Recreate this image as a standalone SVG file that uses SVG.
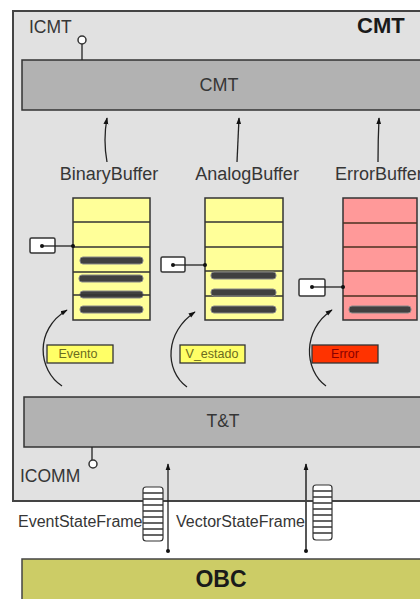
<svg xmlns="http://www.w3.org/2000/svg" width="420" height="599" viewBox="0 0 420 599">
  <style>
    .lbl { font-family: "Liberation Sans", Arial, sans-serif; fill: #363636; }
    .bold { font-family: "Liberation Sans", Arial, sans-serif; font-weight: bold; fill: #1a1a1a; }
    .block { fill: #b2b2b2; stroke: #333; stroke-width: 1.5; }
    .yel { fill: #ffff99; stroke: #333; stroke-width: 1.5; }
    .red { fill: #ff9999; stroke: #333; stroke-width: 1.5; }
    .row { stroke: #333; stroke-width: 1.5; }
    .rowr { stroke: #4a3020; stroke-width: 1.5; }
    .bar { fill: #404040; stroke: #888; stroke-width: 1; }
    .ptr { fill: #ffffff; stroke: #333; stroke-width: 1.5; }
    .wire { fill: none; stroke: #222; stroke-width: 1.3; }
    .dot { fill: #111; }
    .stack { fill: #ffffff; stroke: #333; stroke-width: 1.2; }
    .tag { font-family: "Liberation Sans", Arial, sans-serif; font-size: 12.5px; }
  </style>
  <defs>
    <marker id="tip" viewBox="0 0 10 10" refX="9" refY="5" markerWidth="7" markerHeight="7" markerUnits="userSpaceOnUse" orient="auto">
      <path d="M0,1.5 L10,5 L0,8.5 z" fill="#111"/>
    </marker>
  </defs>

  <rect width="420" height="599" fill="#ffffff"/>

  <!-- outer CMT container -->
  <g id="cmt-container">
    <rect x="13" y="11" width="420" height="490" fill="#e1e1e1" stroke="#444" stroke-width="2"/>
    <text class="bold" x="357" y="33" font-size="22">CMT</text>
    <text class="lbl" x="29" y="33" font-size="17.5">ICMT</text>
  </g>

  <!-- CMT block -->
  <g id="cmt-block">
    <rect class="block" x="22" y="60" width="410" height="50"/>
    <text class="lbl" x="219" y="91" font-size="18" text-anchor="middle">CMT</text>
  </g>

  <!-- binary buffer -->
  <g id="binary-buffer">
    <text class="lbl" x="109" y="180" font-size="18" text-anchor="middle">BinaryBuffer</text>
    <rect class="yel" x="73" y="198" width="77" height="122"/>
    <line class="row" x1="73" y1="222" x2="150" y2="222"/>
    <line class="row" x1="73" y1="247" x2="150" y2="247"/>
    <line class="row" x1="73" y1="272" x2="150" y2="272"/>
    <rect class="bar" x="80" y="257" width="63" height="7" rx="3"/>
    <rect class="bar" x="79" y="275" width="64" height="7" rx="3"/>
    <rect class="bar" x="80" y="291" width="63" height="7" rx="3"/>
    <line class="row" x1="73" y1="295" x2="150" y2="295"/>
    <rect class="bar" x="80" y="306" width="63" height="7" rx="3"/>
  </g>

  <!-- analog buffer -->
  <g id="analog-buffer">
    <text class="lbl" x="247" y="180" font-size="18" text-anchor="middle">AnalogBuffer</text>
    <rect class="yel" x="205" y="198" width="78" height="122"/>
    <line class="row" x1="205" y1="222" x2="283" y2="222"/>
    <line class="row" x1="205" y1="247" x2="283" y2="247"/>
    <line class="row" x1="205" y1="271" x2="283" y2="271"/>
    <line class="row" x1="205" y1="296" x2="283" y2="296"/>
    <rect class="bar" x="211" y="272" width="65" height="7" rx="3"/>
    <rect class="bar" x="211" y="289" width="65" height="7" rx="3"/>
    <rect class="bar" x="211" y="306" width="65" height="7" rx="3"/>
  </g>

  <!-- error buffer -->
  <g id="error-buffer">
    <text class="lbl" x="335" y="180" font-size="18">ErrorBuffer</text>
    <rect class="red" x="343" y="198" width="74" height="122"/>
    <line class="rowr" x1="343" y1="223" x2="417" y2="223"/>
    <line class="rowr" x1="343" y1="247" x2="417" y2="247"/>
    <line class="rowr" x1="343" y1="271" x2="417" y2="271"/>
    <line class="rowr" x1="343" y1="296" x2="417" y2="296"/>
    <rect class="bar" x="349" y="306" width="62" height="7" rx="3"/>
  </g>

  <!-- write pointers -->
  <g id="binary-pointer"><rect class="ptr" x="30" y="238" width="25" height="15" rx="1.5"/></g>
  <g id="analog-pointer"><rect class="ptr" x="161" y="257" width="24" height="15" rx="1.5"/></g>
  <g id="error-pointer"><rect class="ptr" x="299" y="279" width="26" height="17" rx="1.5"/></g>

  <!-- event tags -->
  <g id="tag-evento">
    <rect x="47" y="345" width="66" height="18" fill="#ffff66" stroke="#333" stroke-width="1.3"/>
    <text class="tag" x="78" y="358" text-anchor="middle" fill="#6b6b20">Evento</text>
  </g>
  <g id="tag-vestado">
    <rect x="180" y="345" width="65" height="18" fill="#ffff66" stroke="#333" stroke-width="1.3"/>
    <text class="tag" x="212" y="358" text-anchor="middle" fill="#6b6b20">V_estado</text>
  </g>
  <g id="tag-error">
    <rect x="312" y="345" width="66" height="18" fill="#ff3300" stroke="#333" stroke-width="1.3"/>
    <text class="tag" x="345" y="358" text-anchor="middle" fill="#8a0000">Error</text>
  </g>

  <!-- T&T block -->
  <g id="tt-block">
    <rect class="block" x="24" y="397" width="410" height="50"/>
    <text class="lbl" x="223" y="427" font-size="17.5" text-anchor="middle">T&amp;T</text>
    <text class="lbl" x="20" y="482" font-size="17.5">ICOMM</text>
  </g>

  <!-- frame stacks -->
  <g id="event-stack">
    <rect class="stack" x="143" y="487" width="20" height="54" rx="3"/>
    <path class="row" stroke-width="1" d="M143,493H163M143,499H163M143,505H163M143,511H163M143,517H163M143,523H163M143,529H163M143,535H163"/>
  </g>
  <g id="vector-stack">
    <rect class="stack" x="313" y="485" width="19" height="55" rx="3"/>
    <path class="row" stroke-width="1" d="M313,491H332M313,497H332M313,503H332M313,509H332M313,515H332M313,521H332M313,527H332M313,533H332"/>
  </g>
  <text class="lbl" x="18" y="527" font-size="16">EventStateFrame</text>
  <text class="lbl" x="176" y="527" font-size="16">VectorStateFrame</text>

  <!-- OBC -->
  <g id="obc">
    <rect x="22" y="559" width="420" height="50" fill="#cccc66" stroke="#444" stroke-width="1.5"/>
    <text class="bold" x="221" y="587" font-size="23" text-anchor="middle">OBC</text>
  </g>

  <!-- connectors -->
  <g id="connectors">
    <!-- interface lollipops -->
    <line class="wire" x1="82" y1="44" x2="82" y2="60"/>
    <circle cx="82" cy="40" r="4" fill="#fff" stroke="#333" stroke-width="1.5"/>
    <line class="wire" x1="92" y1="447" x2="92" y2="460"/>
    <circle cx="93" cy="464" r="4" fill="#fff" stroke="#333" stroke-width="1.5"/>

    <!-- buffers up to CMT -->
    <path class="wire" d="M107,162 Q103,140 107,118" marker-end="url(#tip)"/>
    <path class="wire" d="M237,162 Q238,140 239,118" marker-end="url(#tip)"/>
    <path class="wire" d="M378,162 Q378,140 379,118" marker-end="url(#tip)"/>

    <!-- pointers into buffers -->
    <line class="wire" x1="42" y1="246" x2="73" y2="246"/>
    <circle class="dot" cx="42" cy="246" r="2"/><circle class="dot" cx="73" cy="246" r="2"/>
    <line class="wire" x1="173" y1="265" x2="205" y2="265"/>
    <circle class="dot" cx="173" cy="265" r="2"/><circle class="dot" cx="205" cy="265" r="2"/>
    <line class="wire" x1="312" y1="287" x2="343" y2="287"/>
    <circle class="dot" cx="312" cy="287" r="2"/><circle class="dot" cx="343" cy="287" r="2"/>

    <!-- tags pushed into buffers -->
    <path class="wire" d="M62,386 C38,370 34,330 67,310" marker-end="url(#tip)"/>
    <path class="wire" d="M187,387 C164,370 165,332 195,312" marker-end="url(#tip)"/>
    <path class="wire" d="M326,386 C304,370 302,330 332,310" marker-end="url(#tip)"/>

    <!-- OBC links -->
    <line class="wire" x1="168" y1="551" x2="168" y2="464" marker-end="url(#tip)"/>
    <circle class="dot" cx="168" cy="551" r="2"/>
    <line x1="306" y1="551" x2="306" y2="464" stroke="#444" stroke-width="1.8" marker-end="url(#tip)"/>
    <circle class="dot" cx="306" cy="551" r="2"/>
  </g>
</svg>
